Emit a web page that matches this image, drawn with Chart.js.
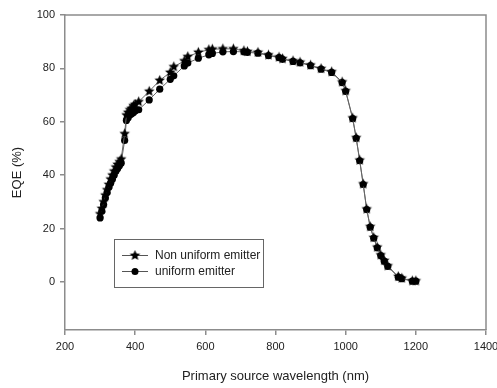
<!DOCTYPE html>
<html><head><meta charset="utf-8">
<script src="https://cdn.jsdelivr.net/npm/chart.js@4"></script>
<style>html,body{margin:0;padding:0;background:#fff;} canvas{display:block;}</style>
</head><body>
<canvas id="c" width="497" height="388"></canvas>
<script>
const wavelengths = [300,305,310,315,320,325,330,335,340,345,350,355,360,370,375,380,385,390,395,400,410,
  440,470,500,510,540,550,580,610,620,650,680,710,720,750,780,810,820,850,870,900,930,960,990,1000,
  1020,1030,1040,1050,1060,1070,1080,1090,1100,1110,1120,1150,1160,1190,1200];
const nonUniform = [25.5,27.5,30,32.5,34.5,36.5,38.5,40,41.5,43,44,45,46,55.5,62.5,63.5,64.5,65,66,66.5,67.5,
  71.4,75.5,78.5,80.6,82.8,84.4,86,87,87.2,87.3,87.3,86.6,86.3,86,85,84.2,83.6,82.8,82.3,81.2,79.9,78.7,74.9,71.6,
  61.4,54,45.6,36.7,27.3,20.7,16.6,13,10.1,8,6,2,1.4,0.4,0.4];
const uniform = [24,26.5,29,31.5,33.5,35.5,37,38.5,40,41.5,42.5,43.5,44.5,53,60.5,61.5,62.5,63,63.5,64,64.5,
  68.2,72.2,75.9,77.2,80.9,82,83.8,85.1,85.6,86.2,86.3,86.2,86,85.7,84.8,84,83.4,82.6,82.1,81,79.7,78.5,74.7,71.4,
  61.2,53.8,45.4,36.5,27.1,20.5,16.4,12.8,9.9,7.8,5.8,1.8,1.2,0.3,0.3];
const xTicks = [200,400,600,800,1000,1200,1400];
const yTicks = [0,20,40,60,80,100];
const seriesLabels = ['Non uniform emitter','uniform emitter'];
const xTitle = 'Primary source wavelength (nm)';
const yTitle = 'EQE (%)';

const FONT = '"Liberation Sans", Arial, sans-serif';
const TEXT = '#222';
const AXIS = '#8c8c8c';

function makeStar(r){
  const s = Math.ceil(r*2)+2;
  const c = document.createElement('canvas'); c.width = s; c.height = s;
  const ctx = c.getContext('2d'); ctx.fillStyle = '#000'; ctx.beginPath();
  for (let i=0;i<10;i++){
    const rad = i%2 ? r*0.47 : r;
    const a = -Math.PI/2 + i*Math.PI/5;
    const x = s/2 + rad*Math.cos(a), y = s/2 + rad*Math.sin(a);
    i ? ctx.lineTo(x,y) : ctx.moveTo(x,y);
  }
  ctx.closePath(); ctx.fill();
  return c;
}
const starImg = makeStar(5.5);

const toPts = arr => wavelengths.map((w,i)=>({x:w,y:arr[i]}));

const framePlugin = {
  id:'frame',
  afterDatasetsDraw(chart){
    const {ctx, chartArea:a} = chart;
    ctx.save(); ctx.strokeStyle = AXIS; ctx.lineWidth = 1.5;
    ctx.beginPath();
    ctx.moveTo(a.left, a.top); ctx.lineTo(a.right, a.top); ctx.lineTo(a.right, a.bottom);
    ctx.stroke(); ctx.restore();
  },
  afterDraw(chart){
    const {ctx, chartArea:a} = chart;
    const bx = a.left + 49, by = a.top + 224, bw = 149, bh = 48;
    ctx.save();
    ctx.strokeStyle = '#666'; ctx.lineWidth = 1;
    ctx.strokeRect(bx+0.5, by+0.5, bw, bh);
    const rows = [by+16.5, by+32.5];
    ctx.font = '12px ' + FONT; ctx.fillStyle = TEXT; ctx.textBaseline = 'middle';
    rows.forEach((ry,i)=>{
      ctx.strokeStyle = '#555'; ctx.beginPath(); ctx.moveTo(bx+8, ry); ctx.lineTo(bx+34, ry); ctx.stroke();
      if (i===0) ctx.drawImage(starImg, bx+21-starImg.width/2, ry-starImg.height/2);
      else { ctx.fillStyle='#000'; ctx.beginPath(); ctx.arc(bx+21, ry, 3.5, 0, Math.PI*2); ctx.fill(); }
      ctx.fillStyle = TEXT;
      ctx.fillText(seriesLabels[i], bx+41, ry);
    });
    ctx.restore();
  }
};

new Chart(document.getElementById('c'), {
  type:'scatter',
  data:{datasets:[
    {label:seriesLabels[0], data:toPts(nonUniform), showLine:true, borderColor:'#666', borderWidth:1,
     pointStyle:starImg, pointRadius:5, backgroundColor:'#000'},
    {label:seriesLabels[1], data:toPts(uniform), showLine:true, borderColor:'#666', borderWidth:1,
     pointStyle:'circle', pointRadius:3.6, backgroundColor:'#000', pointBorderColor:'#000', pointBorderWidth:0}
  ]},
  options:{
    responsive:false, devicePixelRatio:1, animation:false,
    layout:{padding:{left:0,right:11,top:15,bottom:0}},
    plugins:{legend:{display:false}, tooltip:{enabled:false}},
    scales:{
      x:{type:'linear', min:200, max:1400,
        afterBuildTicks(s){ s.ticks = xTicks.map(v=>({value:v})); },
        afterFit(s){ s.height = 58; s.paddingLeft = 0; s.paddingRight = 0; },
        grid:{drawOnChartArea:false, drawTicks:true, tickLength:5, color:AXIS, lineWidth:1.5},
        border:{display:true, color:AXIS, width:1.5},
        ticks:{color:TEXT, font:{family:FONT, size:11}, padding:5, maxRotation:0, callback:v=>String(v)},
        title:{display:true, text:xTitle, color:TEXT, font:{family:FONT, size:13}, padding:{top:0,bottom:4}}
      },
      y:{type:'linear', min:-18, max:100,
        afterBuildTicks(s){ s.ticks = yTicks.map(v=>({value:v})); },
        afterFit(s){ s.width = 65; },
        grid:{drawOnChartArea:false, drawTicks:true, tickLength:5, color:AXIS, lineWidth:1.5},
        border:{display:true, color:AXIS, width:1.5},
        ticks:{color:TEXT, font:{family:FONT, size:11}, padding:5, callback:v=>String(v)},
        title:{display:true, text:yTitle, color:TEXT, font:{family:FONT, size:13}, padding:{top:10,bottom:0}}
      }
    }
  },
  plugins:[framePlugin]
});
</script>
</body></html>
